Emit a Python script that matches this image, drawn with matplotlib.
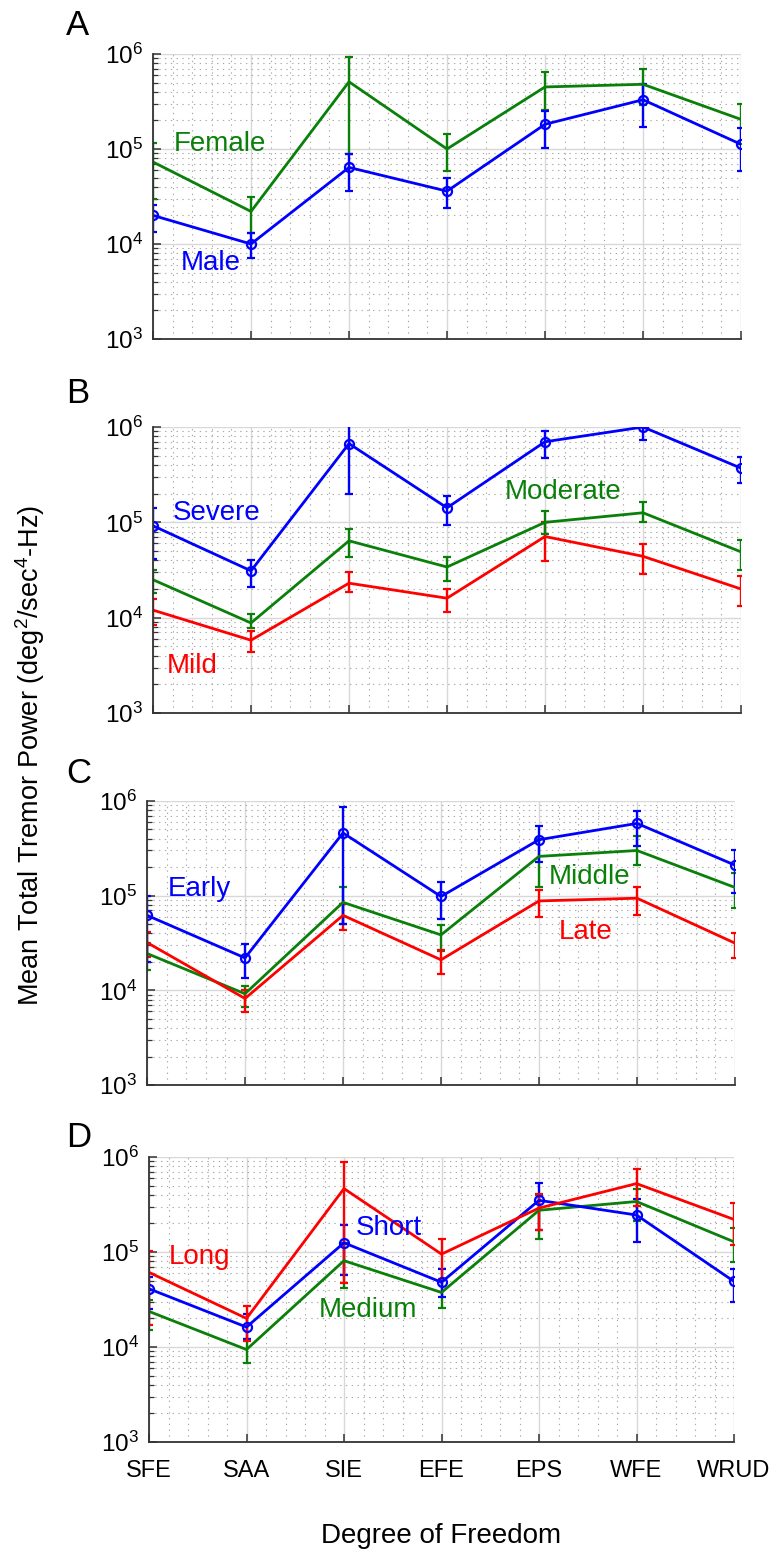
import matplotlib
matplotlib.use("Agg")
import matplotlib.pyplot as plt
import numpy as np
from matplotlib.ticker import LogLocator, MultipleLocator, NullFormatter

plt.rcParams['font.family'] = ['Liberation Sans', 'DejaVu Sans']
plt.rcParams['mathtext.fontset'] = 'custom'
plt.rcParams['mathtext.rm'] = 'Liberation Sans'
plt.rcParams['mathtext.it'] = 'Liberation Sans:italic'
plt.rcParams['mathtext.bf'] = 'Liberation Sans:bold'

dof = ['SFE', 'SAA', 'SIE', 'EFE', 'EPS', 'WFE', 'WRUD']

# panel A : sex
female_mean = [7.3e4, 2.2e4, 5.1e5, 1.0e5, 4.5e5, 4.8e5, 2.05e5]
female_lo = [3.0e4, 1.3e4, 8.9e4, 5.9e4, 2.6e5, 2.9e5, 1.14e5]
female_hi = [1.17e5, 3.1e4, 9.4e5, 1.45e5, 6.4e5, 6.9e5, 3.0e5]
male_mean = [2.0e4, 1.0e4, 6.4e4, 3.6e4, 1.82e5, 3.3e5, 1.12e5]
male_lo = [1.35e4, 7.2e3, 3.6e4, 2.4e4, 1.02e5, 1.7e5, 5.9e4]
male_hi = [2.6e4, 1.3e4, 8.9e4, 4.9e4, 2.5e5, 4.8e5, 1.66e5]

# panel B : severity
severe_mean = [9.2e4, 3.1e4, 6.7e5, 1.42e5, 7.0e5, 1.0e6, 3.7e5]
severe_lo = [4.1e4, 2.1e4, 2.0e5, 9.4e4, 4.7e5, 7.3e5, 2.6e5]
severe_hi = [1.4e5, 4.0e4, 1.13e6, 1.88e5, 9.1e5, 1.27e6, 4.85e5]
moderate_mean = [2.5e4, 8.8e3, 6.4e4, 3.4e4, 1.0e5, 1.26e5, 4.9e4]
moderate_lo = [1.8e4, 7.8e3, 4.3e4, 2.4e4, 7.6e4, 1.0e5, 3.2e4]
moderate_hi = [3.2e4, 1.1e4, 8.6e4, 4.35e4, 1.31e5, 1.62e5, 6.5e4]
mild_mean = [1.2e4, 5.8e3, 2.3e4, 1.6e4, 7.1e4, 4.4e4, 2.0e4]
mild_lo = [8.3e3, 4.35e3, 1.85e4, 1.14e4, 3.9e4, 2.9e4, 1.33e4]
mild_hi = [1.56e4, 7.2e3, 3.0e4, 2.0e4, 1.01e5, 5.9e4, 2.75e4]

# panel C : onset
early_mean = [6.2e4, 2.2e4, 4.6e5, 9.8e4, 3.9e5, 5.8e5, 2.1e5]
early_lo = [2.0e4, 1.36e4, 5.0e4, 5.7e4, 2.25e5, 3.35e5, 1.08e5]
early_hi = [1.0e5, 3.05e4, 8.6e5, 1.4e5, 5.45e5, 7.8e5, 3.0e5]
middle_mean = [2.45e4, 9.2e3, 8.5e4, 3.85e4, 2.6e5, 3.0e5, 1.22e5]
middle_lo = [1.63e4, 6.7e3, 5.0e4, 2.6e4, 1.24e5, 2.1e5, 7.4e4]
middle_hi = [3.15e4, 1.1e4, 1.24e5, 4.95e4, 3.95e5, 4.3e5, 1.72e5]
late_mean = [3.2e4, 8.2e3, 6.2e4, 2.1e4, 8.8e4, 9.4e4, 3.15e4]
late_lo = [2.25e4, 5.9e3, 4.3e4, 1.5e4, 6.0e4, 6.3e4, 2.2e4]
late_hi = [4.1e4, 1.0e4, 8.2e4, 2.65e4, 1.16e5, 1.22e5, 4.05e4]

# panel D : duration
short_mean = [4.1e4, 1.62e4, 1.25e5, 4.8e4, 3.5e5, 2.45e5, 4.9e4]
short_lo = [2.5e4, 1.2e4, 5.7e4, 3.4e4, 1.7e5, 1.28e5, 3.0e4]
short_hi = [5.5e4, 2.2e4, 1.92e5, 6.6e4, 5.3e5, 3.65e5, 6.6e4]
medium_mean = [2.37e4, 9.4e3, 8.1e4, 3.75e4, 2.75e5, 3.4e5, 1.28e5]
medium_lo = [1.52e4, 6.8e3, 4.2e4, 2.6e4, 1.36e5, 2.1e5, 7.9e4]
medium_hi = [3.15e4, 1.21e4, 1.23e5, 5.1e4, 3.95e5, 4.65e5, 1.77e5]
long_mean = [6.1e4, 2.0e4, 4.65e5, 9.5e4, 2.9e5, 5.25e5, 2.2e5]
long_lo = [1.7e4, 1.15e4, 4.7e4, 5.2e4, 1.7e5, 3.05e5, 1.18e5]
long_hi = [1.03e5, 2.7e4, 8.9e5, 1.36e5, 4.1e5, 7.55e5, 3.25e5]

BLUE = '#0000ff'
GREEN = '#0a800a'
RED = '#ff0000'

fig = plt.figure(figsize=(7.7, 15.49), dpi=100)
W, H = 770.0, 1549.0


def add_panel(left, right, top, bottom):
    return fig.add_axes([left / W, 1 - bottom / H, (right - left) / W, (bottom - top) / H])


def draw_series(ax, mean, lo, hi, color, marker=None):
    x = np.arange(len(mean))
    mean = np.array(mean)
    yerr = [mean - np.array(lo), np.array(hi) - mean]
    ax.errorbar(x, mean, yerr=yerr, color=color, lw=2.0, elinewidth=1.7,
                capsize=3, capthick=1.7, marker=marker, ms=6.5, mfc='none',
                mew=1.6, mec=color)


def style_axes(ax, show_labels=False):
    ax.set_yscale('log')
    ax.set_xlim(0, len(dof) - 1)
    ax.set_ylim(1e3, 1e6)
    ax.set_xticks(np.arange(len(dof)))
    ax.xaxis.set_minor_locator(MultipleLocator(0.2))
    ax.yaxis.set_major_locator(LogLocator(base=10, numticks=10))
    ax.yaxis.set_minor_locator(LogLocator(base=10, subs=np.arange(2, 10), numticks=20))
    ax.yaxis.set_minor_formatter(NullFormatter())
    ax.grid(True, which='major', color='#d8d8d8', lw=1.0, ls='-')
    ax.grid(True, which='minor', color='#a8a8a8', lw=0.8, ls=(0, (1.2, 4)))
    ax.set_axisbelow(True)
    for s in ['top', 'right']:
        ax.spines[s].set_visible(False)
    for s in ['left', 'bottom']:
        ax.spines[s].set_color('#333333')
        ax.spines[s].set_linewidth(1.3)
    ax.tick_params(axis='both', which='major', direction='in', length=6,
                   width=1.1, color='#333333', labelsize=17.5)
    ax.tick_params(axis='y', which='minor', direction='in', length=3.5,
                   width=0.9, color='#333333')
    ax.tick_params(axis='x', which='minor', length=0)
    ax.tick_params(axis='y', pad=7)
    if show_labels:
        ax.set_xticklabels(dof, fontsize=17)
        ax.tick_params(axis='x', pad=13)
    else:
        ax.set_xticklabels([])


# A
axA = add_panel(153, 741, 54, 339)
style_axes(axA)
draw_series(axA, female_mean, female_lo, female_hi, GREEN)
draw_series(axA, male_mean, male_lo, male_hi, BLUE, 'o')
axA.text(0.21, 1.14e5, 'Female', color=GREEN, fontsize=20, va='center')
axA.text(0.28, 6.3e3, 'Male', color=BLUE, fontsize=20, va='center')

# B
axB = add_panel(153, 741, 427, 713)
style_axes(axB)
draw_series(axB, mild_mean, mild_lo, mild_hi, RED)
draw_series(axB, moderate_mean, moderate_lo, moderate_hi, GREEN)
draw_series(axB, severe_mean, severe_lo, severe_hi, BLUE, 'o')
axB.text(0.2, 1.24e5, 'Severe', color=BLUE, fontsize=20, va='center')
axB.text(3.59, 2.09e5, 'Moderate', color=GREEN, fontsize=20, va='center')
axB.text(0.14, 3.1e3, 'Mild', color=RED, fontsize=20, va='center')

# C
axC = add_panel(147, 735, 801, 1085)
style_axes(axC)
draw_series(axC, middle_mean, middle_lo, middle_hi, GREEN)
draw_series(axC, late_mean, late_lo, late_hi, RED)
draw_series(axC, early_mean, early_lo, early_hi, BLUE, 'o')
axC.text(0.21, 1.17e5, 'Early', color=BLUE, fontsize=20, va='center')
axC.text(4.1, 1.56e5, 'Middle', color=GREEN, fontsize=20, va='center')
axC.text(4.2, 4.1e4, 'Late', color=RED, fontsize=20, va='center')

# D
axD = add_panel(149, 734, 1157, 1442)
style_axes(axD, show_labels=True)
draw_series(axD, medium_mean, medium_lo, medium_hi, GREEN)
draw_series(axD, short_mean, short_lo, short_hi, BLUE, 'o')
draw_series(axD, long_mean, long_lo, long_hi, RED)
axD.text(0.2, 8.9e4, 'Long', color=RED, fontsize=20, va='center')
axD.text(2.12, 1.77e5, 'Short', color=BLUE, fontsize=20, va='center')
axD.text(1.74, 2.46e4, 'Medium', color=GREEN, fontsize=20, va='center')

# panel letters
for letter, base in zip('ABCD', [35, 403, 783, 1147]):
    fig.text(66 / W, 1 - base / H, letter, fontsize=25, va='baseline', ha='left')

fig.text(30 / W, 1 - 755 / H, 'Mean Total Tremor Power (deg$^2$/sec$^4$-Hz)',
         rotation=90, fontsize=19.5, ha='center', va='center')
fig.text(441 / W, 1 - 1543 / H, 'Degree of Freedom', fontsize=20,
         ha='center', va='baseline')

fig.savefig('out.png', dpi=100, facecolor='white')
